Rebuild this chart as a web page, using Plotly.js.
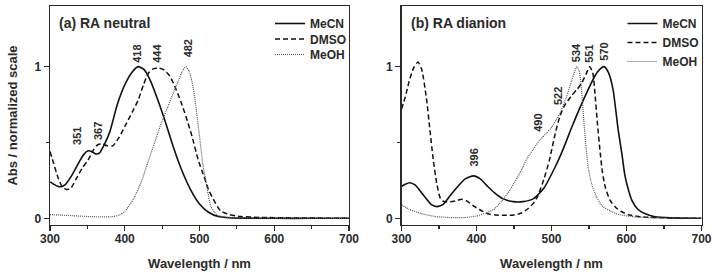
<!DOCTYPE html>
<html>
<head>
<meta charset="utf-8">
<script src="https://cdn.plot.ly/plotly-3.0.1.min.js"></script>
<style>html,body{margin:0;padding:0;background:#fff;}#chart{width:713px;height:276px;}</style>
</head>
<body>
<div id="chart"></div>
<script>
// ---- Panel (a) RA neutral ----
const wlA_MeCN = [300,305,310,315,320,330,340,345,351,356,361,366,372,380,390,400,410,418,426,435,445,454,465,476,488,500,512,525,540,560,600,650,700];
const absA_MeCN = [0.24,0.225,0.212,0.208,0.22,0.29,0.38,0.42,0.445,0.44,0.425,0.43,0.48,0.57,0.75,0.88,0.965,1.0,0.98,0.9,0.77,0.64,0.47,0.32,0.19,0.095,0.04,0.012,0.004,0.001,0,0,0];
const wlA_DMSO = [300,305,310,316,322,328,335,343,351,358,364,370,377,384,392,400,410,418,425,432,438,445,452,460,467,475,482,490,498,505,512,518,528,540,555,580,620,700];
const absA_DMSO = [0.44,0.36,0.28,0.21,0.19,0.2,0.26,0.33,0.385,0.45,0.485,0.49,0.478,0.478,0.53,0.605,0.7,0.78,0.88,0.96,0.985,0.99,0.98,0.94,0.87,0.77,0.67,0.54,0.39,0.29,0.19,0.13,0.05,0.025,0.012,0.006,0.003,0];
const wlA_MeOH = [300,320,350,380,392,400,405,412,422,431,440,449,458,466,472,477,482,486,490,494,498,501,505,508,512,515,520,524,535,560,700];
const absA_MeOH = [0.025,0.02,0.012,0.01,0.02,0.045,0.077,0.13,0.24,0.37,0.5,0.63,0.74,0.84,0.91,0.97,1.0,0.97,0.9,0.78,0.62,0.5,0.34,0.26,0.15,0.08,0.04,0.02,0.008,0.003,0];

// ---- Panel (b) RA dianion ----
const wlB_MeCN = [300,305,311,318,325,332,340,347,355,365,375,385,396,405,415,425,435,449,462,476,490,505,515,527,538,549,558,564,570,576,582,589,594,598,603,607,615,625,638,660,700];
const absB_MeCN = [0.21,0.225,0.235,0.22,0.18,0.135,0.09,0.077,0.09,0.15,0.21,0.26,0.28,0.26,0.21,0.165,0.13,0.11,0.11,0.13,0.2,0.34,0.45,0.6,0.73,0.85,0.94,0.98,1.0,0.96,0.85,0.58,0.42,0.28,0.18,0.12,0.06,0.03,0.01,0.003,0];
const wlB_DMSO = [300,305,310,316,322,327,333,338,342,347,352,357,365,372,380,387,395,405,415,425,440,450,460,469,476,482,490,497,505,511,517,527,534,540,546,551,555,558,561,565,568,572,578,585,593,602,620,650,700];
const absB_DMSO = [0.72,0.8,0.9,0.99,1.03,0.98,0.8,0.58,0.4,0.23,0.13,0.11,0.11,0.115,0.125,0.115,0.085,0.055,0.03,0.022,0.02,0.022,0.035,0.065,0.1,0.15,0.26,0.38,0.56,0.67,0.74,0.81,0.85,0.89,0.95,1.0,0.96,0.82,0.64,0.43,0.3,0.2,0.12,0.075,0.045,0.025,0.01,0.003,0];
const wlB_MeOH = [300,310,325,345,365,385,400,412,422,433,445,458,467,475,485,493,500,511,520,527,531,534,537,540,543,546,549,554,560,568,578,590,610,640,700];
const absB_MeOH = [0.088,0.06,0.033,0.012,0.005,0.005,0.015,0.035,0.055,0.11,0.19,0.3,0.39,0.45,0.52,0.56,0.6,0.69,0.8,0.91,0.97,1.0,0.97,0.85,0.65,0.47,0.33,0.22,0.14,0.08,0.05,0.025,0.01,0.003,0];

const seriesNames = ["MeCN","DMSO","MeOH"];
const panelTitles = ["(a) RA neutral","(b) RA dianion"];
const peakLabelsA = [["351",336,0.47],["367",365,0.50],["418",417,1.015],["444",443,1.015],["482",484,1.045]];
const peakLabelsB = [["396",397,0.33],["490",482.5,0.56],["522",508,0.73],["534",533,1.015],["551",550.5,1.015],["570",570,1.025]];
const xTickVals = [300,400,500,600,700];
const yTickVals = [0,1];

const INK = "#2a2a2a";
const styles = [
  {color:"#111", width:1.6, dash:"solid"},
  {color:"#111", width:1.5, dash:"5px,3px"},
  {color:"#555", width:1.2, dash:"1px,1px"}
];

function mk(x, y, i, xa, ya, leg) {
  return {x:x, y:y, type:"scatter", mode:"lines", name:seriesNames[i],
    xaxis:xa, yaxis:ya, legend:leg,
    line:Object.assign({shape:"spline", smoothing:0.6}, styles[i]),
    hoverinfo:"skip"};
}

const data = [
  mk(wlA_MeCN, absA_MeCN, 0, "x", "y", "legend"),
  mk(wlA_DMSO, absA_DMSO, 1, "x", "y", "legend"),
  mk(wlA_MeOH, absA_MeOH, 2, "x", "y", "legend"),
  mk(wlB_MeCN, absB_MeCN, 0, "x2", "y2", "legend2"),
  mk(wlB_DMSO, absB_DMSO, 1, "x2", "y2", "legend2"),
  mk(wlB_MeOH, absB_MeOH, 2, "x2", "y2", "legend2")
];

const FONT = "Liberation Sans, Arial, sans-serif";
const tickFont = {family:FONT, size:12, color:INK, weight:"bold"};
const titleFont = {family:FONT, size:13, color:INK, weight:"bold"};

function xAx(domain, anchor) {
  return {domain:domain, anchor:anchor, range:[300,700], tickvals:xTickVals,
    ticks:"outside", ticklen:5, tickwidth:1.2, tickcolor:INK, ticklabelstandoff:-3,
    minor:{dtick:50, tick0:300, ticks:"outside", ticklen:3, tickwidth:1.2, tickcolor:INK},
    showline:true, linecolor:INK, linewidth:1.4, mirror:true,
    showgrid:false, zeroline:false, tickfont:tickFont,
    title:{text:"Wavelength / nm", font:titleFont, standoff:14}};
}
function yAx(anchor, withTitle) {
  const a = {domain:[0.1848,0.9783], anchor:anchor, range:[-0.044,1.40], tickvals:yTickVals,
    ticks:"outside", ticklen:5, tickwidth:1.2, tickcolor:INK,
    minor:{dtick:0.5, tick0:0, ticks:"outside", ticklen:3, tickwidth:1.2, tickcolor:INK},
    showline:true, linecolor:INK, linewidth:1.4, mirror:true,
    showgrid:false, zeroline:false, tickfont:tickFont};
  if (withTitle) a.title = {text:"Abs / normalized scale", font:titleFont, standoff:14};
  return a;
}

const annotations = [];
[[peakLabelsA,"x","y"],[peakLabelsB,"x2","y2"]].forEach(function(g){
  g[0].forEach(function(p){
    annotations.push({text:p[0], x:p[1], y:p[2], xref:g[1], yref:g[2],
      textangle:-90, showarrow:false, xanchor:"center", yanchor:"bottom",
      font:{family:FONT, size:11, color:INK, weight:"bold"}});
  });
});
annotations.push({text:panelTitles[0], x:57/713, y:1-23/276, xref:"paper", yref:"paper",
  xanchor:"left", yanchor:"middle", showarrow:false, font:{family:FONT, size:14, color:INK, weight:"bold"}});
annotations.push({text:panelTitles[1], x:409/713, y:1-23/276, xref:"paper", yref:"paper",
  xanchor:"left", yanchor:"middle", showarrow:false, font:{family:FONT, size:14, color:INK, weight:"bold"}});

const legFont = {family:FONT, size:12, color:INK, weight:"bold"};
const layout = {
  width:713, height:276,
  margin:{l:0, r:0, t:0, b:0},
  paper_bgcolor:"#fff", plot_bgcolor:"#fff",
  showlegend:true,
  xaxis:xAx([50/713, 349/713], "y"),
  yaxis:yAx("x", true),
  xaxis2:xAx([401.5/713, 701.5/713], "y2"),
  yaxis2:yAx("x2", false),
  legend:{x:351/713, xanchor:"right", y:1-9/276, yanchor:"top", bgcolor:"rgba(0,0,0,0)",
    font:legFont, tracegroupgap:0, itemwidth:30},
  legend2:{x:703.5/713, xanchor:"right", y:1-9/276, yanchor:"top", bgcolor:"rgba(0,0,0,0)",
    font:legFont, tracegroupgap:0, itemwidth:30},
  annotations:annotations
};

Plotly.newPlot("chart", data, layout, {staticPlot:true, displayModeBar:false}).then(function(gd){
  // tighten legend row spacing to match the reference (about 15 px per row)
  gd.querySelectorAll("g.legend").forEach(function(leg){
    const items = leg.querySelectorAll("g.traces");
    let y0 = null;
    items.forEach(function(it, i){
      const m = /translate\(([-\d.]+)[ ,]+([-\d.]+)\)/.exec(it.getAttribute("transform") || "");
      if (!m) return;
      if (y0 === null) y0 = parseFloat(m[2]);
      it.setAttribute("transform", "translate(" + m[1] + "," + (y0 + i * 15.5) + ")");
    });
  });
});
</script>
</body>
</html>
